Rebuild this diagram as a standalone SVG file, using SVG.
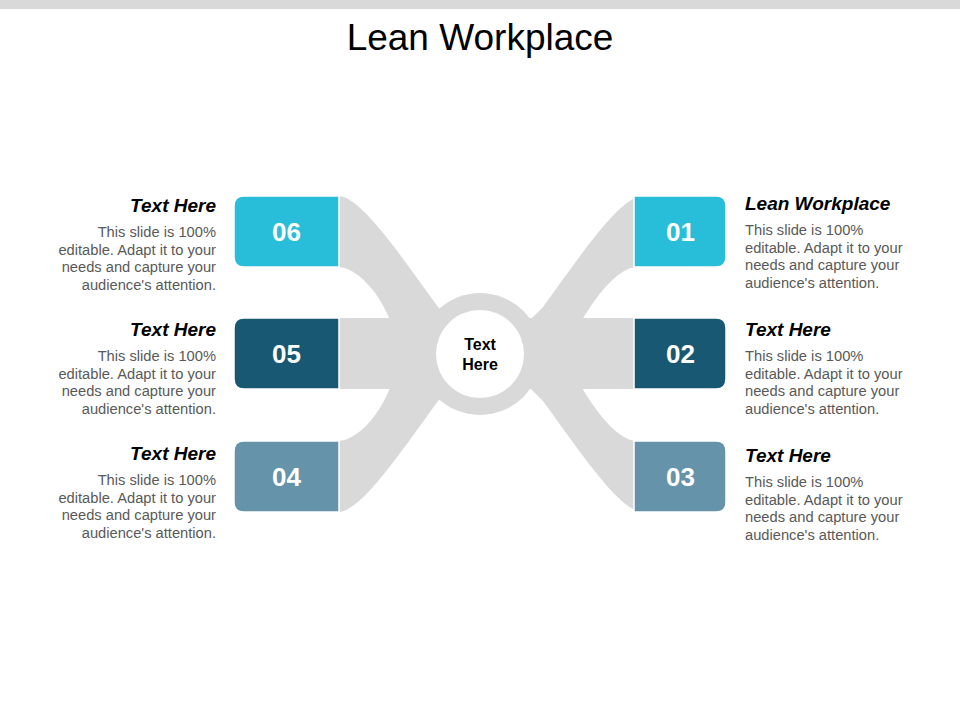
<svg xmlns="http://www.w3.org/2000/svg" width="960" height="720" viewBox="0 0 960 720">
<style>
.band{fill:#D9D9D9}
.box{stroke:#FFFFFF;stroke-width:1.5}
.c1{fill:#28BDD9}
.c2{fill:#185873}
.c3{fill:#6593A9}
.num{font-family:"Liberation Sans",Arial,sans-serif;font-weight:bold;font-size:26px;fill:#FFFFFF;text-anchor:middle}
.hd{font-family:"Liberation Sans",Arial,sans-serif;font-weight:bold;font-style:italic;font-size:19px;fill:#000000}
.bd{font-family:"Liberation Sans",Arial,sans-serif;font-size:14.7px;fill:#595959}
.l{text-anchor:end}
.r{text-anchor:start}
</style>
<rect x="0" y="0" width="960" height="9" fill="#D9D9D9"/>
<text x="480" y="50" font-family="'Liberation Sans',Arial,sans-serif" font-size="37" text-anchor="middle" fill="#000000">Lean Workplace</text>

<g id="connectors">
  <path class="band" d="M339,196 C362,197 405,262 438,307 L480,354 L390,340 L390,320 C378,290 356,268 339,267 Z"/>
  <path class="band" d="M339,512 C362,511 405,446 438,401 L480,354 L390,368 L390,388 C378,418 356,440 339,441 Z"/>
  <rect class="band" x="339" y="318" width="141" height="71"/>
  <path class="band" d="M642,196 C619,197 576,262 543,307 L528,322 L480,354 L582,340 L582,320 C600,290 620,268 636,267 Z"/>
  <path class="band" d="M642,512 C619,511 576,446 543,401 L528,386 L480,354 L582,368 L582,388 C600,418 620,440 636,441 Z"/>
  <rect class="band" x="480" y="318" width="156" height="71"/>
</g>

<g id="hub">
  <circle cx="480" cy="354" r="61" fill="#D9D9D9"/>
  <circle cx="480" cy="354" r="44" fill="#FFFFFF"/>
  <text x="480" y="350" font-family="'Liberation Sans',Arial,sans-serif" font-weight="bold" font-size="16" text-anchor="middle" fill="#000000">Text</text>
  <text x="480" y="370" font-family="'Liberation Sans',Arial,sans-serif" font-weight="bold" font-size="16" text-anchor="middle" fill="#000000">Here</text>
</g>

<g id="node06">
  <path class="box c1" d="M339,196 L244,196 Q234,196 234,206 L234,257 Q234,267 244,267 L339,267 Z"/>
  <text class="num" x="286.5" y="241">06</text>
  <text class="hd l" x="216" y="212">Text Here</text>
  <text class="bd l" x="216" y="237">This slide is 100%</text>
  <text class="bd l" x="216" y="254.5">editable. Adapt it to your</text>
  <text class="bd l" x="216" y="272">needs and capture your</text>
  <text class="bd l" x="216" y="289.5">audience's attention.</text>
</g>

<g id="node05">
  <path class="box c2" d="M339,318 L244,318 Q234,318 234,328 L234,379 Q234,389 244,389 L339,389 Z"/>
  <text class="num" x="286.5" y="363">05</text>
  <text class="hd l" x="216" y="336">Text Here</text>
  <text class="bd l" x="216" y="361">This slide is 100%</text>
  <text class="bd l" x="216" y="378.5">editable. Adapt it to your</text>
  <text class="bd l" x="216" y="396">needs and capture your</text>
  <text class="bd l" x="216" y="413.5">audience's attention.</text>
</g>

<g id="node04">
  <path class="box c3" d="M339,441 L244,441 Q234,441 234,451 L234,502 Q234,512 244,512 L339,512 Z"/>
  <text class="num" x="286.5" y="486">04</text>
  <text class="hd l" x="216" y="460">Text Here</text>
  <text class="bd l" x="216" y="485">This slide is 100%</text>
  <text class="bd l" x="216" y="502.5">editable. Adapt it to your</text>
  <text class="bd l" x="216" y="520">needs and capture your</text>
  <text class="bd l" x="216" y="537.5">audience's attention.</text>
</g>

<g id="node01">
  <path class="box c1" d="M634,196 L716,196 Q726,196 726,206 L726,257 Q726,267 716,267 L634,267 Z"/>
  <text class="num" x="680.5" y="241">01</text>
  <text class="hd r" x="745" y="210">Lean Workplace</text>
  <text class="bd r" x="745" y="235">This slide is 100%</text>
  <text class="bd r" x="745" y="252.5">editable. Adapt it to your</text>
  <text class="bd r" x="745" y="270">needs and capture your</text>
  <text class="bd r" x="745" y="287.5">audience's attention.</text>
</g>

<g id="node02">
  <path class="box c2" d="M634,318 L716,318 Q726,318 726,328 L726,379 Q726,389 716,389 L634,389 Z"/>
  <text class="num" x="680.5" y="363">02</text>
  <text class="hd r" x="745" y="336">Text Here</text>
  <text class="bd r" x="745" y="361">This slide is 100%</text>
  <text class="bd r" x="745" y="378.5">editable. Adapt it to your</text>
  <text class="bd r" x="745" y="396">needs and capture your</text>
  <text class="bd r" x="745" y="413.5">audience's attention.</text>
</g>

<g id="node03">
  <path class="box c3" d="M634,441 L716,441 Q726,441 726,451 L726,502 Q726,512 716,512 L634,512 Z"/>
  <text class="num" x="680.5" y="486">03</text>
  <text class="hd r" x="745" y="462">Text Here</text>
  <text class="bd r" x="745" y="487">This slide is 100%</text>
  <text class="bd r" x="745" y="504.5">editable. Adapt it to your</text>
  <text class="bd r" x="745" y="522">needs and capture your</text>
  <text class="bd r" x="745" y="539.5">audience's attention.</text>
</g>
</svg>
